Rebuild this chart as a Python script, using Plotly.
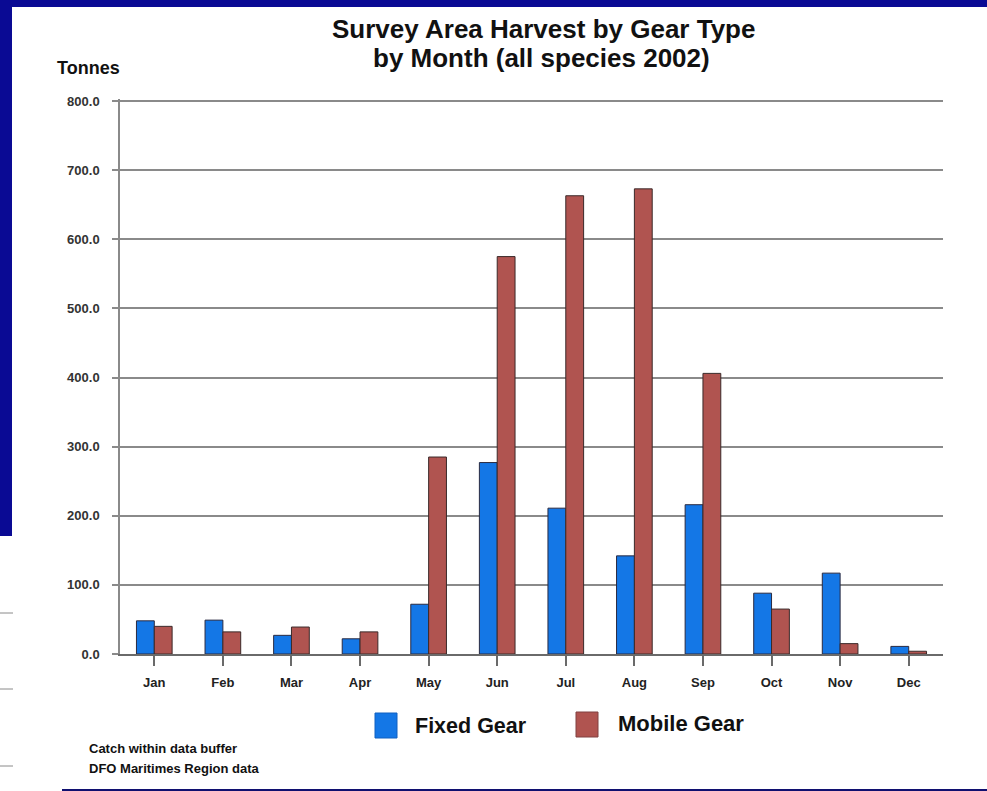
import plotly.graph_objects as go

months = ["Jan", "Feb", "Mar", "Apr", "May", "Jun", "Jul", "Aug", "Sep", "Oct", "Nov", "Dec"]
fixed_gear = [48, 49, 27, 22, 72, 277, 211, 142, 216, 88, 117, 11]
mobile_gear = [40, 32, 39, 32, 285, 575, 663, 673, 406, 65, 15, 4]
y_ticks = [0, 100, 200, 300, 400, 500, 600, 700, 800]

W, H = 987, 791
L, R, T, B = 120, 943, 99, 654
Y_MAX = 803

def xp(px):
    return (px - L) / (R - L)

def yp(py):
    return (B - py) / (B - T)

FONT = "Arial, Liberation Sans, Helvetica, sans-serif"
BLUE = "#1477e6"
RED = "#b05450"
NAVY = "#0a0a94"

fig = go.Figure()
fig.add_trace(go.Bar(x=months, y=fixed_gear, name="Fixed Gear",
                     marker=dict(color=BLUE, line=dict(color="#2a2a40", width=1))))
fig.add_trace(go.Bar(x=months, y=mobile_gear, name="Mobile Gear",
                     marker=dict(color=RED, line=dict(color="#3a2a2a", width=1))))

shapes = []
# slide decorations
shapes.append(dict(type="rect", xref="paper", yref="paper", x0=xp(0), x1=xp(W), y0=yp(0), y1=yp(7),
                   fillcolor=NAVY, line=dict(width=0), layer="below"))
shapes.append(dict(type="rect", xref="paper", yref="paper", x0=xp(0), x1=xp(12), y0=yp(0), y1=yp(536),
                   fillcolor=NAVY, line=dict(width=0), layer="below"))
for ly in (613, 689, 766):
    shapes.append(dict(type="line", xref="paper", yref="paper", x0=xp(0), x1=xp(13), y0=yp(ly), y1=yp(ly),
                       line=dict(color="#8a8a8a", width=1)))
shapes.append(dict(type="line", xref="paper", yref="paper", x0=xp(62), x1=xp(W), y0=yp(790), y1=yp(790),
                   line=dict(color="#101070", width=2)))
# legend swatches
shapes.append(dict(type="rect", xref="paper", yref="paper", x0=xp(375), x1=xp(397), y0=yp(738), y1=yp(713),
                   fillcolor=BLUE, line=dict(color="#1060c0", width=1)))
shapes.append(dict(type="rect", xref="paper", yref="paper", x0=xp(576), x1=xp(598), y0=yp(737), y1=yp(712),
                   fillcolor=RED, line=dict(color="#804040", width=1)))

annotations = [
    dict(text="<b>Survey Area Harvest by Gear Type</b>", xref="paper", yref="paper", x=xp(543), y=yp(29),
         xanchor="center", yanchor="middle", showarrow=False, font=dict(family=FONT, size=26, color="#111")),
    dict(text="<b>by Month (all species 2002)</b>", xref="paper", yref="paper", x=xp(541), y=yp(58),
         xanchor="center", yanchor="middle", showarrow=False, font=dict(family=FONT, size=26, color="#111")),
    dict(text="<b>Tonnes</b>", xref="paper", yref="paper", x=xp(55), y=yp(68), xanchor="left", yanchor="middle",
         showarrow=False, font=dict(family=FONT, size=18, color="#111")),
    dict(text="<b>Fixed Gear</b>", xref="paper", yref="paper", x=xp(413), y=yp(726), xanchor="left", yanchor="middle",
         showarrow=False, font=dict(family=FONT, size=21.5, color="#111")),
    dict(text="<b>Mobile Gear</b>", xref="paper", yref="paper", x=xp(616), y=yp(723), xanchor="left", yanchor="middle",
         showarrow=False, font=dict(family=FONT, size=22, color="#111")),
    dict(text="<b>Catch within data buffer</b>", xref="paper", yref="paper", x=xp(87), y=yp(748), xanchor="left",
         yanchor="middle", showarrow=False, font=dict(family=FONT, size=13, color="#111")),
    dict(text="<b>DFO Maritimes Region data</b>", xref="paper", yref="paper", x=xp(87), y=yp(768), xanchor="left",
         yanchor="middle", showarrow=False, font=dict(family=FONT, size=13, color="#111")),
]

fig.update_layout(
    width=W, height=H,
    margin=dict(l=L, r=W - R, t=T, b=H - B, pad=0),
    paper_bgcolor="white", plot_bgcolor="white",
    showlegend=False,
    barmode="group", bargap=0.48, bargroupgap=0,
    font=dict(family=FONT, color="#222"),
    shapes=shapes,
    annotations=annotations,
    xaxis=dict(type="category", range=[-0.5, 11.5], showgrid=False,
               showline=True, linecolor="#6a6a6a", linewidth=1.5,
               ticks="outside", ticklen=10, tickcolor="#6a6a6a", tickwidth=1.5,
               ticklabelstandoff=6,
               tickfont=dict(family=FONT, size=13, color="#222"),
               tickvals=months, ticktext=["<b>%s</b>" % m for m in months]),
    yaxis=dict(range=[0, Y_MAX], tickvals=y_ticks, ticktext=["<b>%.1f</b>" % v for v in y_ticks],
               showgrid=True, gridcolor="#8a8a8a", gridwidth=1.5,
               zeroline=False, showline=True, linecolor="#8a8a8a", linewidth=1.5,
               ticks="outside", ticklen=6, tickcolor="#8a8a8a", tickwidth=1.5,
               ticklabelstandoff=10,
               tickfont=dict(family=FONT, size=13, color="#333")),
)

fig.write_html("out.html")
